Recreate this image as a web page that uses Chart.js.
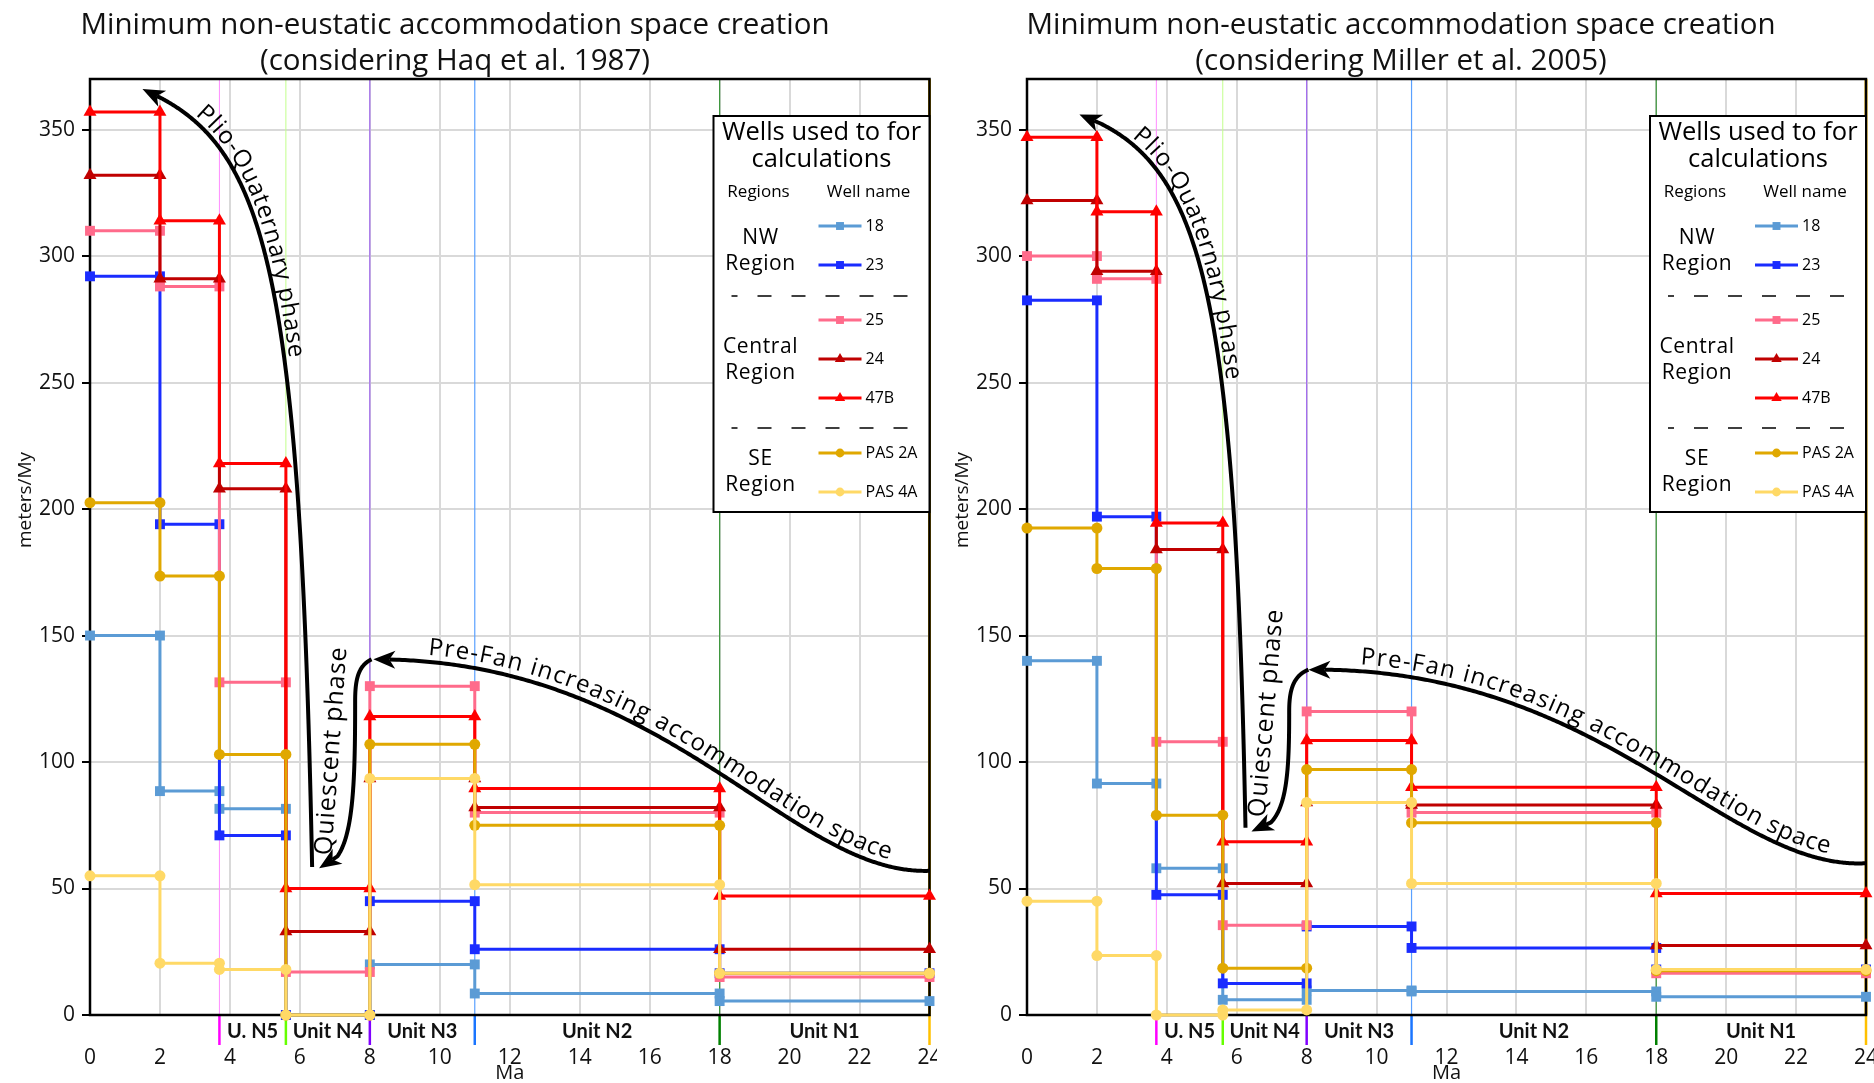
<!DOCTYPE html>
<html>
<head>
<meta charset="utf-8">
<script src="https://cdn.jsdelivr.net/npm/chart.js@4.4.1/dist/chart.umd.min.js"></script>
<style>
  html, body { margin: 0; padding: 0; background: #fff; }
  .panel { position: absolute; top: 0; width: 937px; height: 1083px; }
</style>
</head>
<body>
<div class="panel" style="left:0"><canvas id="haq" width="937" height="1083"></canvas></div>
<div class="panel" style="left:937px"><canvas id="miller" width="937" height="1083"></canvas></div>
<script>
// step boundaries (Ma) of the rate intervals, young to old
const ageBounds = [0, 2, 3.7, 5.6, 8, 11, 18, 24];
const xTicks = [0, 2, 4, 6, 8, 10, 12, 14, 16, 18, 20, 22, 24];
const yTicks = [0, 50, 100, 150, 200, 250, 300, 350];

const unitBounds = [3.7, 5.6, 8, 11, 18, 24];
const unitNames = ['U. N5', 'Unit N4', 'Unit N3', 'Unit N2', 'Unit N1'];

const wellNames = ['18', '23', '25', '24', '47B', 'PAS 2A', 'PAS 4A'];
const regionNames = [['NW', 'Region'], ['Central', 'Region'], ['SE', 'Region']];

// meters/My for each interval, considering Haq et al. 1987
const haq18    = [150, 88.5, 81.5, 0, 20, 8.5, 5.5];
const haq23    = [292, 194, 71, 0, 45, 26, 16.5];
const haq25    = [310, 288, 131.5, 17, 130, 80, 15];
const haq24    = [332, 291, 208, 33, 93.5, 82, 26];
const haq47B   = [357, 314, 218, 50, 118, 89.5, 47];
const haqPAS2A = [202.5, 173.5, 103, 0, 107, 75, 16.5];
const haqPAS4A = [55, 20.5, 18, 0, 93.5, 51.5, 16.5];

// meters/My for each interval, considering Miller et al. 2005
const mil18    = [140, 91.5, 58, 6, 9.7, 9.3, 7.2];
const mil23    = [282.5, 197, 47.5, 12.5, 35, 26.5, 18];
const mil25    = [300, 291, 108, 35.5, 120, 80, 16.5];
const mil24    = [322, 294, 184, 52, 84, 83, 27.5];
const mil47B   = [347, 317.5, 194.5, 68.5, 108.5, 90, 48];
const milPAS2A = [192.5, 176.5, 79, 18.5, 97, 76, 17.5];
const milPAS4A = [45, 23.5, 0, 2, 84, 52, 18];

// styles
const wellColors = ['#5b9bd5', '#1a2cff', '#ff6b8b', '#c00000', '#ff0000', '#e0a800', '#ffd966'];
const wellMarkers = ['rect', 'rect', 'rect', 'triangle', 'triangle', 'circle', 'circle'];
const markerSize = { rect: 7, triangle: 7.5, circle: 5.5 };
const unitTickColors = ['#ff00ff', '#66ff00', '#8000ff', '#1a75ff', '#008000', '#ffc000'];
const unitLineColors = ['#ff8cff', '#c2ff8c', '#a066f0', '#5aa0ff', '#3c963c', '#ffc000'];
const unitLineWidths = [1, 1, 1.2, 1.2, 1.2, 3];

const LEG = { w: 216, top: 116, h: 396 };
const legRowY = [110, 149, 204, 243, 282, 337, 376];
const legRegionY = [[122, 148], [231, 257], [343, 369]];
const legSepY = [180, 312];

// annotation arrows, in axis units (Ma, meters/My); each is a chain of cubic segments
const annHaq = {
  title: ['Minimum non-eustatic accommodation space creation', '(considering Haq et al. 1987)'],
  titleX: 455,
  plio: [[[6.35, 58.5], [6.0, 300], [5.0, 345], [1.5, 366]]],
  quiescent: [
    [[8.05, 140.6], [7.65, 138], [7.58, 132], [7.58, 124]],
    [[7.58, 124], [7.58, 84], [7.5, 60], [6.55, 58]]
  ],
  preFan: [[[24, 57], [20, 55], [16.5, 141], [8.1, 140.6]]],
  plioTextX: 2.9,
  preFanTextX: 9.6,
  quiescentText: [[6.9, 63], [7.33, 145]]
};
const annMiller = {
  title: ['Minimum non-eustatic accommodation space creation', '(considering Miller et al. 2005)'],
  titleX: 464,
  plio: [[[6.25, 74], [5.95, 290], [5.0, 338], [1.5, 356]]],
  quiescent: [
    [[8.05, 136.5], [7.6, 134], [7.5, 128], [7.5, 120]],
    [[7.5, 120], [7.5, 92], [7.42, 74], [6.42, 72.5]]
  ],
  preFan: [[[24, 60], [20, 57], [16.5, 138], [8.05, 136.5]]],
  plioTextX: 2.9,
  preFanTextX: 9.5,
  quiescentText: [[6.8, 78], [7.26, 151]]
};

function stepPoints(vals) {
  const pts = [];
  vals.forEach((v, i) => {
    pts.push({ x: ageBounds[i], y: v });
    pts.push({ x: ageBounds[i + 1], y: v });
  });
  return pts;
}

function buildDatasets(series) {
  return series.map((vals, i) => ({
    label: wellNames[i],
    data: stepPoints(vals),
    borderColor: wellColors[i],
    backgroundColor: wellColors[i],
    borderWidth: 3,
    pointStyle: wellMarkers[i],
    pointRadius: markerSize[wellMarkers[i]],
    pointBorderWidth: 0,
    tension: 0,
    clip: false,
    order: series.length - 1 - i
  }));
}

function line(ctx, x1, y1, x2, y2) {
  ctx.beginPath(); ctx.moveTo(x1, y1); ctx.lineTo(x2, y2); ctx.stroke();
}

function bez(p, t) {
  const u = 1 - t;
  return u * u * u * p[0] + 3 * u * u * t * p[1] + 3 * u * t * t * p[2] + t * t * t * p[3];
}

function samplePath(chart, segs, n) {
  const xs = chart.scales.x, ys = chart.scales.y;
  const out = [];
  segs.forEach((ctrl, k) => {
    const px = ctrl.map(p => xs.getPixelForValue(p[0]));
    const py = ctrl.map(p => ys.getPixelForValue(p[1]));
    for (let i = k ? 1 : 0; i <= n; i++) out.push([bez(px, i / n), bez(py, i / n)]);
  });
  return out;
}

function sampler(pts) {
  const cum = [0];
  for (let i = 1; i < pts.length; i++) {
    cum.push(cum[i - 1] + Math.hypot(pts[i][0] - pts[i - 1][0], pts[i][1] - pts[i - 1][1]));
  }
  const at = s => {
    let i = 1;
    while (i < cum.length - 1 && cum[i] < s) i++;
    const f = (s - cum[i - 1]) / ((cum[i] - cum[i - 1]) || 1);
    return [pts[i - 1][0] + f * (pts[i][0] - pts[i - 1][0]), pts[i - 1][1] + f * (pts[i][1] - pts[i - 1][1])];
  };
  return { at, cum };
}

function textOnPath(ctx, pts, text, s0, offset, spacing) {
  const P = sampler(pts);
  let s = s0;
  for (const ch of text) {
    const w = ctx.measureText(ch).width;
    const p0 = P.at(s), p1 = P.at(s + w);
    const ang = Math.atan2(p1[1] - p0[1], p1[0] - p0[0]);
    const m = P.at(s + w / 2);
    ctx.save();
    ctx.translate(m[0] + Math.sin(ang) * offset, m[1] - Math.cos(ang) * offset);
    ctx.rotate(ang);
    ctx.fillText(ch, 0, 0);
    ctx.restore();
    s += w + spacing;
  }
}

function drawArrow(ctx, pts) {
  const head = 22, half = 9, notch = 6;
  const n = pts.length;
  const tip = pts[n - 1];
  let k = n - 1, acc = 0;
  while (k > 0 && acc < head) {
    acc += Math.hypot(pts[k][0] - pts[k - 1][0], pts[k][1] - pts[k - 1][1]);
    k--;
  }
  const dx = tip[0] - pts[k][0], dy = tip[1] - pts[k][1], L = Math.hypot(dx, dy) || 1;
  const ux = dx / L, uy = dy / L, nx = -uy, ny = ux;
  ctx.beginPath();
  ctx.moveTo(pts[0][0], pts[0][1]);
  for (let i = 1; i <= k; i++) ctx.lineTo(pts[i][0], pts[i][1]);
  ctx.lineTo(tip[0] - ux * (head - notch), tip[1] - uy * (head - notch));
  ctx.stroke();
  ctx.beginPath();
  ctx.moveTo(tip[0], tip[1]);
  ctx.lineTo(tip[0] - ux * head + nx * half, tip[1] - uy * head + ny * half);
  ctx.lineTo(tip[0] - ux * (head - notch), tip[1] - uy * (head - notch));
  ctx.lineTo(tip[0] - ux * head - nx * half, tip[1] - uy * head - ny * half);
  ctx.closePath();
  ctx.fill();
}

function startAtX(pts, px) {
  const P = sampler(pts);
  for (let i = 0; i < pts.length; i++) if (pts[i][0] >= px) return P.cum[i];
  return 0;
}

function drawLegend(chart) {
  const { ctx, chartArea: a } = chart;
  const bx = a.right - LEG.w, by = LEG.top;
  ctx.save();
  ctx.fillStyle = '#fff';
  ctx.fillRect(bx, by, LEG.w, LEG.h);
  ctx.strokeStyle = '#000';
  ctx.lineWidth = 2;
  ctx.strokeRect(bx, by, LEG.w, LEG.h);
  ctx.fillStyle = '#000';
  ctx.textAlign = 'center';
  ctx.textBaseline = 'middle';
  ctx.font = '25.5px "Open Sans"';
  ctx.fillText('Wells used to for', bx + LEG.w / 2, by + 17);
  ctx.fillText('calculations', bx + LEG.w / 2, by + 44);
  ctx.font = '17px "Open Sans"';
  ctx.fillText('Regions', bx + 45, by + 76);
  ctx.fillText('Well name', bx + 155, by + 76);
  ctx.font = '21px "Open Sans"';
  ctx.letterSpacing = '0.6px';
  regionNames.forEach((r, i) => {
    ctx.fillText(r[0], bx + 47, by + legRegionY[i][0]);
    ctx.fillText(r[1], bx + 47, by + legRegionY[i][1]);
  });
  ctx.letterSpacing = '0px';
  ctx.lineWidth = 1.5;
  ctx.setLineDash([14, 20]);
  ctx.lineDashOffset = 8;
  legSepY.forEach(sy => line(ctx, bx + 18, by + sy, bx + 198, by + sy));
  ctx.setLineDash([]);
  chart.data.datasets.forEach((ds, i) => {
    const yy = by + legRowY[i];
    ctx.strokeStyle = ds.borderColor;
    ctx.lineWidth = 3;
    line(ctx, bx + 105, yy, bx + 148, yy);
    ctx.fillStyle = ds.backgroundColor;
    Chart.helpers.drawPoint(ctx, { pointStyle: ds.pointStyle, radius: ds.pointRadius * 0.8, borderWidth: 0, rotation: 0 }, bx + 126.5, yy);
    ctx.fillStyle = '#000';
    ctx.textAlign = 'left';
    ctx.font = '16px "Open Sans"';
    ctx.fillText(ds.label, bx + 152, yy);
  });
  ctx.restore();
}

const decorPlugin = {
  id: 'decor',
  beforeDatasetsDraw(chart) {
    const { ctx, chartArea: a, scales: { x } } = chart;
    ctx.save();
    unitBounds.forEach((b, i) => {
      const px = x.getPixelForValue(b);
      ctx.strokeStyle = unitLineColors[i];
      ctx.lineWidth = unitLineWidths[i];
      line(ctx, px, a.top, px, a.bottom);
      ctx.strokeStyle = unitTickColors[i];
      ctx.lineWidth = 2.5;
      line(ctx, px, a.bottom, px, a.bottom + 30);
    });
    ctx.strokeStyle = '#000';
    ctx.lineWidth = 2.5;
    ctx.strokeRect(a.left, a.top, a.right - a.left, a.bottom - a.top);
    ctx.restore();
  },
  afterDatasetsDraw(chart, args, opts) {
    const ann = opts.ann;
    const { ctx, scales: { x, y } } = chart;
    ctx.save();
    ctx.strokeStyle = '#000';
    ctx.fillStyle = '#000';
    ctx.lineWidth = 4;
    ctx.lineJoin = 'round';
    const plio = samplePath(chart, ann.plio, 300);
    const qui = samplePath(chart, ann.quiescent, 150);
    const pre = samplePath(chart, ann.preFan, 300);
    [plio, qui, pre].forEach(p => drawArrow(ctx, p));

    ctx.textAlign = 'center';
    ctx.textBaseline = 'alphabetic';
    ctx.font = '24px "Open Sans"';
    const preRev = pre.slice().reverse();
    textOnPath(ctx, preRev, 'Pre-Fan increasing accommodation space',
      startAtX(preRev, x.getPixelForValue(ann.preFanTextX)), 7, 1.2);
    const plioRev = plio.slice().reverse();
    textOnPath(ctx, plioRev, 'Plio-Quaternary phase',
      startAtX(plioRev, x.getPixelForValue(ann.plioTextX)), 5, 0.6);
    ctx.font = '25px "Open Sans"';
    const qt = ann.quiescentText.map(p => [x.getPixelForValue(p[0]), y.getPixelForValue(p[1])]);
    textOnPath(ctx, qt, 'Quiescent phase', 0, 0, 1);
    ctx.restore();
    drawLegend(chart);
  },
  afterDraw(chart, args, opts) {
    const ann = opts.ann;
    const { ctx, chartArea: a, scales: { x } } = chart;
    ctx.save();
    ctx.fillStyle = '#111';
    ctx.textAlign = 'center';
    ctx.textBaseline = 'middle';
    ctx.font = 'bold 20px Lato';
    unitNames.forEach((name, i) => {
      const cx = (x.getPixelForValue(unitBounds[i]) + x.getPixelForValue(unitBounds[i + 1])) / 2;
      ctx.fillText(name, cx, a.bottom + 17);
    });
    ctx.font = '29.5px "Open Sans"';
    ctx.fillText(ann.title[0], ann.titleX, 26);
    ctx.fillText(ann.title[1], ann.titleX, 62);
    ctx.translate(a.left - 64, 500);
    ctx.rotate(-Math.PI / 2);
    ctx.font = '19px "Open Sans"';
    ctx.fillText('meters/My', 0, 0);
    ctx.restore();
  }
};

function makeChart(id, series, ann, padRight) {
  const tickFont = { family: 'Open Sans', size: 21 };
  return new Chart(document.getElementById(id), {
    type: 'line',
    data: { datasets: buildDatasets(series) },
    plugins: [decorPlugin],
    options: {
      responsive: false,
      devicePixelRatio: 1,
      animation: false,
      events: [],
      layout: { padding: { left: 30, right: padRight, top: 79, bottom: 0 } },
      plugins: {
        legend: { display: false },
        tooltip: { enabled: false },
        decor: { ann: ann }
      },
      scales: {
        x: {
          type: 'linear', min: 0, max: 24,
          afterBuildTicks: s => { s.ticks = xTicks.map(v => ({ value: v })); },
          afterFit: s => { s.height = 68; s.paddingLeft = 0; s.paddingRight = 0; },
          ticks: { font: tickFont, color: '#111', padding: 30, maxRotation: 0, autoSkip: false },
          grid: { color: '#d9d9d9', lineWidth: 2, drawTicks: false },
          border: { color: '#000', width: 2 },
          title: { display: true, text: 'Ma', color: '#111', padding: 0,
                   font: { family: 'Open Sans', size: 20, lineHeight: 1 } }
        },
        y: {
          type: 'linear', min: 0, max: 370,
          afterBuildTicks: s => { s.ticks = yTicks.map(v => ({ value: v })); },
          afterFit: s => { s.width = 60; s.paddingTop = 0; s.paddingBottom = 0; },
          ticks: { font: tickFont, color: '#111', padding: 7 },
          grid: { color: '#d9d9d9', lineWidth: 2, tickColor: '#000', tickLength: 8, tickWidth: 2 },
          border: { color: '#000', width: 2 }
        }
      }
    }
  });
}

document.fonts.ready.then(() => {
  makeChart('haq', [haq18, haq23, haq25, haq24, haq47B, haqPAS2A, haqPAS4A], annHaq, 7);
  makeChart('miller', [mil18, mil23, mil25, mil24, mil47B, milPAS2A, milPAS4A], annMiller, 8);
});
</script>
</body>
</html>
